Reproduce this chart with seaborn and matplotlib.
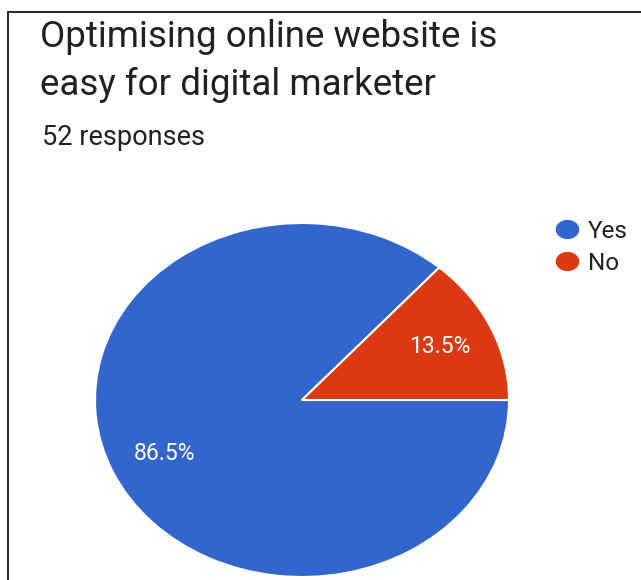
import matplotlib
matplotlib.use("Agg")
import matplotlib.pyplot as plt
from matplotlib.lines import Line2D
from matplotlib.path import Path
import numpy as np
import seaborn as sns

# Data
labels = ["Yes", "No"]
counts = [45, 7]  # 52 responses -> 86.5% / 13.5%
colors = ["#3366CC", "#DC3912"]
title_lines = ["Optimising online website is", "easy for digital marketer"]
subtitle = "52 responses"

sns.set_theme(style="white")
plt.rcParams["font.family"] = ["Roboto", "DejaVu Sans"]

W, H = 641, 580
fig = plt.figure(figsize=(W / 100, H / 100), dpi=100)
fig.patch.set_facecolor("white")

# pie axes, placed in pixel coords (the screenshot is stretched sideways)
cx, cy, rx, ry = 302, 400, 207, 177
ax = fig.add_axes([(cx - rx) / W, (H - cy - ry) / H, 2 * rx / W, 2 * ry / H])
wedges, texts, autotexts = ax.pie(
    counts, colors=colors, startangle=0, counterclock=False,
    autopct="%1.1f%%", pctdistance=0.73,
    wedgeprops=dict(edgecolor="white", linewidth=1.5),
    textprops=dict(color="white", fontsize=16.5),
)
ax.set_aspect("auto")
ax.set_xlim(-1, 1)
ax.set_ylim(-1, 1)
ax.axis("off")

# titles
fig.text(40 / W, 1 - 47 / H, title_lines[0], fontsize=26.5, color="#202124",
         ha="left", va="baseline")
fig.text(40 / W, 1 - 95 / H, title_lines[1], fontsize=26.5, color="#202124",
         ha="left", va="baseline")
fig.text(42 / W, 1 - 145 / H, subtitle, fontsize=19.5, color="#202124",
         ha="left", va="baseline")

# legend with slightly wide dots
t = np.linspace(0, 2 * np.pi, 60)
dot = Path(np.column_stack([1.25 * np.cos(t), np.sin(t)]), closed=True)
handles = [Line2D([0], [0], marker=dot, linestyle="", markersize=16,
                  markerfacecolor=c, markeredgecolor=c) for c in colors]
fig.legend(handles, labels, loc="upper left",
           bbox_to_anchor=(553 / W, 1 - 220 / H), frameon=False,
           fontsize=17.5, handletextpad=0.3, labelspacing=0.35,
           handlelength=1.15, borderpad=0, borderaxespad=0,
           labelcolor="#202124")

# screenshot border (top and left)
fig.add_artist(Line2D([8 / W, 1], [1 - 12 / H, 1 - 12 / H], color="black",
                      linewidth=1.2))
fig.add_artist(Line2D([8 / W, 8 / W], [0, 1 - 12 / H], color="black",
                      linewidth=1.2))

fig.savefig("out.png", dpi=100)
